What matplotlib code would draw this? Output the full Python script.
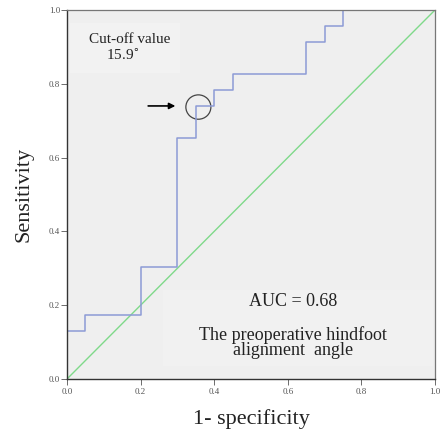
import matplotlib
matplotlib.use("Agg")
import matplotlib.pyplot as plt
from matplotlib.patches import Ellipse, Rectangle

fpr = [0.0, 0.0, 0.05, 0.05, 0.20, 0.20, 0.30, 0.30, 0.35, 0.35, 0.40, 0.40, 0.45, 0.45, 0.65, 0.65, 0.70, 0.70, 0.75, 0.75, 1.0]
tpr = [0.0, 0.130, 0.130, 0.174, 0.174, 0.304, 0.304, 0.652, 0.652, 0.739, 0.739, 0.783, 0.783, 0.826, 0.826, 0.913, 0.913, 0.957, 0.957, 1.0, 1.0]
ticks = [0.0, 0.2, 0.4, 0.6, 0.8, 1.0]
tick_labels = ["0.0", "0.2", "0.4", "0.6", "0.8", "1.0"]
cutoff = (0.357, 0.737)

serif = "Liberation Serif"
fig = plt.figure(figsize=(4.44, 4.41), dpi=100)
ax = fig.add_axes([67/444, 1-379/441, 368/444, 369/441])
ax.set_facecolor("#efefef")

# faint text boxes
ax.add_patch(Rectangle((0.008, 0.83), 0.30, 0.135, facecolor="#f2f2f2", edgecolor="none", zorder=0.5))
ax.add_patch(Rectangle((0.26, 0.035), 0.735, 0.205, facecolor="#f1f1f1", edgecolor="none", zorder=0.5))

ax.plot([0, 1], [0, 1], color="#7fd98a", lw=1.0)
ax.plot(fpr, tpr, color="#8d9bd6", lw=1.1)
ax.set_xlim(0, 1)
ax.set_ylim(0, 1)
ax.set_xticks(ticks)
ax.set_xticklabels(tick_labels)
ax.set_yticks(ticks)
ax.set_yticklabels(tick_labels)
ax.tick_params(labelsize=6.5, length=4, width=0.6, color="#555555", labelcolor="#555555", pad=1)
ax.tick_params(axis="x", pad=2.5)
for lab in ax.get_xticklabels() + ax.get_yticklabels():
    lab.set_family(serif)
for s in ["left", "bottom"]:
    ax.spines[s].set_color("#333333")
    ax.spines[s].set_linewidth(1.0)
for s in ["top", "right"]:
    ax.spines[s].set_color("#777777")
    ax.spines[s].set_linewidth(0.9)

ax.set_xlabel("1- specificity", family=serif, fontsize=16, color="#222222")
ax.set_ylabel("Sensitivity", family=serif, fontsize=16, color="#222222")
ax.xaxis.set_label_coords(0.5, -0.082)
ax.yaxis.set_label_coords(-0.09, 0.5)

ax.add_patch(Ellipse(cutoff, 0.068, 0.066, fill=False, edgecolor="#444444", lw=0.9))
ax.annotate("", xy=(0.302, 0.740), xytext=(0.213, 0.740),
            arrowprops=dict(arrowstyle="-|>", color="black", lw=1.2, mutation_scale=9))

ax.text(0.169, 0.919, "Cut-off value", family=serif, fontsize=11, ha="center", va="center", color="#222222")
ax.text(0.152, 0.878, "15.9$^{\\circ}$", family=serif, fontsize=11, ha="center", va="center", color="#222222")
ax.text(0.615, 0.209, "AUC = 0.68", family=serif, fontsize=13, ha="center", va="center", color="#222222")
ax.text(0.615, 0.119, "The preoperative hindfoot", family=serif, fontsize=13, ha="center", va="center", color="#222222")
ax.text(0.615, 0.076, "alignment  angle", family=serif, fontsize=13, ha="center", va="center", color="#222222")

fig.savefig("out.png", dpi=100)
